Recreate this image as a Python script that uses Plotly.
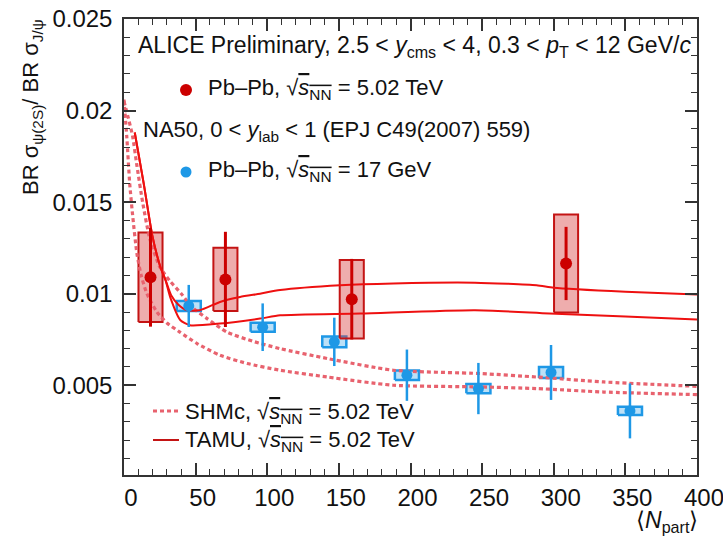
import plotly.graph_objects as go

# ---------------- data ----------------
alice_npart = [18.5, 70.8, 159.0, 308.6]
alice_ratio = [0.0109, 0.01078, 0.0097, 0.01165]
alice_stat = [0.0027, 0.0026, 0.0022, 0.0020]
alice_syst = [0.00244, 0.00173, 0.00214, 0.00267]

na50_npart = [45.2, 96.8, 146.8, 197.5, 247.4, 298.1, 353.2]
na50_ratio = [0.00933, 0.00817, 0.00737, 0.00555, 0.00482, 0.00570, 0.00360]
na50_stat = [0.00115, 0.0013, 0.00132, 0.0014, 0.0014, 0.0015, 0.0015]
na50_syst = [0.00027, 0.00025, 0.00029, 0.00026, 0.00025, 0.00030, 0.00023]

tamu_hi_npart = [7.5, 13.8, 19.7, 25.4, 29, 33, 38, 44, 53, 67, 81, 95, 109, 151, 188, 245, 288, 300, 350, 400]
tamu_hi_ratio = [0.0188, 0.0160, 0.0132, 0.01146, 0.01074, 0.0099, 0.0094, 0.0091, 0.0091, 0.00955, 0.00982, 0.0100, 0.0102, 0.01046, 0.01056, 0.0106, 0.01046, 0.01032, 0.0101, 0.00995]

tamu_lo_npart = [7.5, 13.8, 19.7, 25.4, 29, 32.3, 39.4, 46, 67, 95, 109, 165, 245, 297, 350, 400]
tamu_lo_ratio = [0.0188, 0.0160, 0.0132, 0.01146, 0.01074, 0.0098, 0.00855, 0.00828, 0.00837, 0.00864, 0.00882, 0.00892, 0.0091, 0.00892, 0.00875, 0.00859]

shm_hi_npart = [0, 3, 6, 9, 13, 18, 25, 32, 40, 47, 58, 72, 90, 109, 142, 188, 249, 288, 335, 400]
shm_hi_ratio = [0.0205, 0.0196, 0.0186, 0.0170, 0.0150, 0.0130, 0.01146, 0.0107, 0.0100, 0.0093, 0.00864, 0.0079, 0.0074, 0.0070, 0.00646, 0.00582, 0.00564, 0.00545, 0.00518, 0.00494]

shm_lo_npart = [0, 2, 4, 6, 9, 12, 16, 23, 30, 39, 51, 67, 86, 109, 142, 188, 249, 288, 335, 400]
shm_lo_ratio = [0.0206, 0.0185, 0.0160, 0.0143, 0.0122, 0.0110, 0.0100, 0.0090, 0.0084, 0.0079, 0.00728, 0.00664, 0.00619, 0.00582, 0.00545, 0.0050, 0.00491, 0.00482, 0.00463, 0.00449]

x_ticks = [0, 50, 100, 150, 200, 250, 300, 350, 400]
x_tick_labels = ["0", "50", "100", "150", "200", "250", "300", "350", "400"]
y_ticks = [0.005, 0.01, 0.015, 0.02, 0.025]
y_tick_labels = ["0.005", "0.01", "0.015", "0.02", "0.025"]

# ---------------- style ----------------
RED = "#cc0000"
RED_BOX_LINE = "#c41414"
RED_BOX_FILL = "rgba(214,60,60,0.42)"
TAMU_COL = "#ee1010"
SHM_COL = "#e8626e"
BLUE = "#1e98e6"
BLUE_BOX_FILL = "rgba(30,152,230,0.30)"
FONT = "Liberation Sans, Arial, sans-serif"
BOX_HW = 8.4


def boxes(xs, ys, es):
    bx, by = [], []
    for x, y, e in zip(xs, ys, es):
        bx += [x - BOX_HW, x + BOX_HW, x + BOX_HW, x - BOX_HW, x - BOX_HW, None]
        by += [y - e, y - e, y + e, y + e, y - e, None]
    return bx, by


fig = go.Figure()

# systematic boxes
bx, by = boxes(na50_npart, na50_ratio, na50_syst)
fig.add_trace(go.Scatter(x=bx, y=by, mode="lines", fill="toself", fillcolor=BLUE_BOX_FILL,
                         line=dict(color=BLUE, width=2.5), hoverinfo="skip", showlegend=False))
bx, by = boxes(alice_npart, alice_ratio, alice_syst)
fig.add_trace(go.Scatter(x=bx, y=by, mode="lines", fill="toself", fillcolor=RED_BOX_FILL,
                         line=dict(color=RED_BOX_LINE, width=2), hoverinfo="skip", showlegend=False))

# models
dot = "4px,3px"
fig.add_trace(go.Scatter(x=shm_hi_npart, y=shm_hi_ratio, mode="lines",
                         line=dict(color=SHM_COL, width=3.2, dash=dot, shape="spline", smoothing=0.6),
                         showlegend=False))
fig.add_trace(go.Scatter(x=shm_lo_npart, y=shm_lo_ratio, mode="lines",
                         line=dict(color=SHM_COL, width=3.2, dash=dot, shape="spline", smoothing=0.6),
                         showlegend=False))
fig.add_trace(go.Scatter(x=tamu_hi_npart, y=tamu_hi_ratio, mode="lines",
                         line=dict(color=TAMU_COL, width=2, shape="spline", smoothing=0.6),
                         showlegend=False))
fig.add_trace(go.Scatter(x=tamu_lo_npart, y=tamu_lo_ratio, mode="lines",
                         line=dict(color=TAMU_COL, width=2, shape="spline", smoothing=0.6),
                         showlegend=False))

# data points
fig.add_trace(go.Scatter(x=na50_npart, y=na50_ratio, mode="markers",
                         marker=dict(color=BLUE, size=11),
                         error_y=dict(type="data", array=na50_stat, color=BLUE, thickness=2.5, width=0),
                         showlegend=False))
fig.add_trace(go.Scatter(x=alice_npart, y=alice_ratio, mode="markers",
                         marker=dict(color=RED, size=12),
                         error_y=dict(type="data", array=alice_stat, color=RED, thickness=3, width=0),
                         showlegend=False))

# ---------------- layout ----------------
L, R, T, B = 124, 26, 19, 61
W, H = 723, 536
pw, ph = W - L - R, H - T - B


def px(xp):
    return (xp - L) / pw


def py(yp):
    return (H - B - yp) / ph


axis_common = dict(showline=True, linecolor="#333333", linewidth=1.5, mirror="allticks",
                   ticks="inside", tickcolor="#333333", tickwidth=1.5, ticklen=12,
                   showgrid=False, zeroline=False, automargin=False, ticklabeloverflow="allow",
                   tickfont=dict(family=FONT, size=24, color="#111111"))

fig.update_xaxes(range=[0, 400], tickvals=x_ticks, ticktext=x_tick_labels, ticklabelshift=7,
                 minor=dict(dtick=10, tick0=0, ticks="inside", ticklen=6, tickcolor="#333333", tickwidth=1.2),
                 **axis_common)
fig.update_yaxes(range=[0.0001, 0.025], tickvals=y_ticks, ticktext=y_tick_labels, ticklabelstandoff=5,
                 minor=dict(dtick=0.001, tick0=0, ticks="inside", ticklen=6, tickcolor="#333333", tickwidth=1.2),
                 **axis_common)

TF = dict(family=FONT, size=23, color="#111111")
TF2 = dict(family=FONT, size=22, color="#111111")
sq = "√<span style='text-decoration:overline'><i>s</i><sub>NN</sub></span>"
ann = [
    dict(x=px(136), y=py(46), text="ALICE Preliminary, 2.5 < <i>y</i><sub>cms</sub> < 4, 0.3 < <i>p</i><sub>T</sub> < 12 GeV/<i>c</i>",
         xanchor="left", yanchor="middle", font=TF),
    dict(x=px(206), y=py(89), text="Pb–Pb, " + sq + " = 5.02 TeV", xanchor="left", yanchor="middle", font=TF2),
    dict(x=px(141), y=py(131), text="NA50, 0 < <i>y</i><sub>lab</sub> < 1 (EPJ C49(2007) 559)",
         xanchor="left", yanchor="middle", font=TF2),
    dict(x=px(206), y=py(171), text="Pb–Pb, " + sq + " = 17 GeV", xanchor="left", yanchor="middle", font=TF2),
    dict(x=px(183), y=py(413), text="SHMc, " + sq + " = 5.02 TeV", xanchor="left", yanchor="middle", font=TF2),
    dict(x=px(183), y=py(441), text="TAMU, " + sq + " = 5.02 TeV", xanchor="left", yanchor="middle", font=TF2),
]
annotations = []
for a in ann:
    a.update(xref="paper", yref="paper", showarrow=False)
    annotations.append(a)

annotations.append(dict(x=px(32), y=py(17), xref="paper", yref="paper", showarrow=False,
                        text="BR σ<sub>ψ(2S)</sub>/ BR σ<sub>J/ψ</sub>", textangle=-90,
                        xanchor="center", yanchor="top", font=dict(family=FONT, size=22, color="#111111")))
annotations.append(dict(x=px(700), y=py(538), xref="paper", yref="paper", showarrow=False,
                        text="⟨<i>N</i><sub>part</sub>⟩", xanchor="right", yanchor="bottom",
                        font=dict(family=FONT, size=23, color="#111111")))

shapes = [
    dict(type="circle", xref="paper", yref="paper", x0=px(180), x1=px(192), y0=py(84), y1=py(96),
         fillcolor=RED, line=dict(width=0)),
    dict(type="circle", xref="paper", yref="paper", x0=px(180.5), x1=px(191.5), y0=py(166.5), y1=py(177.5),
         fillcolor=BLUE, line=dict(width=0)),
    dict(type="line", xref="paper", yref="paper", x0=px(153), x1=px(179), y0=py(411), y1=py(411),
         line=dict(color=SHM_COL, width=3.2, dash=dot)),
    dict(type="line", xref="paper", yref="paper", x0=px(153), x1=px(179), y0=py(440), y1=py(440),
         line=dict(color=RED_BOX_LINE, width=2)),
]

fig.update_layout(width=W, height=H, margin=dict(l=L, r=R, t=T, b=B, autoexpand=False),
                  paper_bgcolor="white", plot_bgcolor="white",
                  annotations=annotations, shapes=shapes, showlegend=False)

fig.write_html("out.html", config={"displayModeBar": False},
               post_script="document.body.style.margin='0px';")
